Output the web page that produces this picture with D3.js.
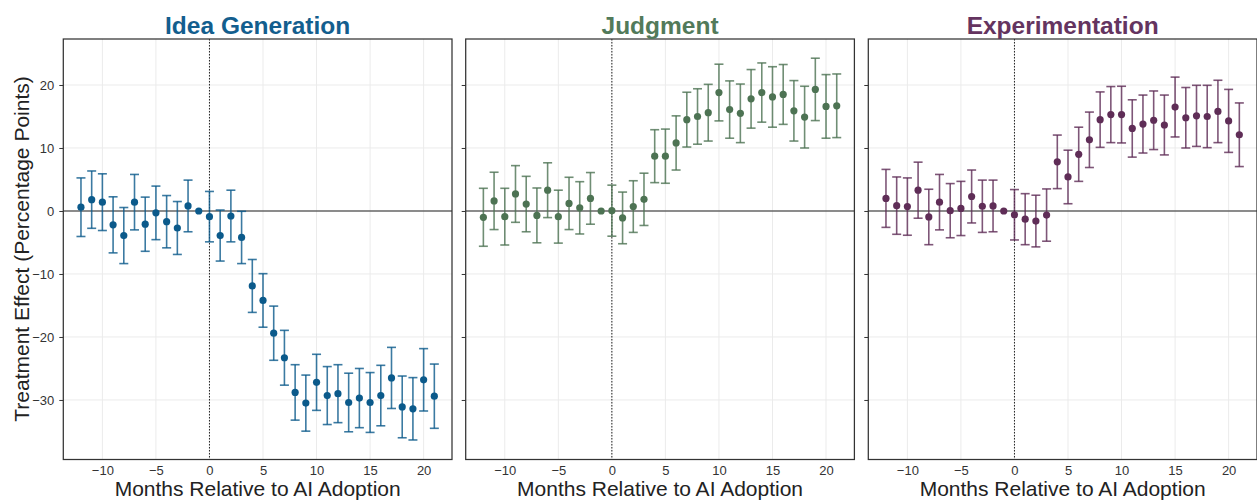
<!DOCTYPE html>
<html>
<head>
<meta charset="utf-8">
<style>
body {margin: 0; background: #fff;}
text {font-family: "Liberation Sans", Arial, sans-serif;}
</style>
<script src="https://d3js.org/d3.v7.min.js"></script>
</head>
<body>
<svg id="vis" width="1257" height="502"></svg>
<script>
var months = d3.range(-12, 22);

var ideaEst = [0.6, 1.8, 1.4, -2.2, -3.9, 1.4, -2.1, -0.3, -1.7, -2.7, 0.8, 0, -0.9, -3.9, -0.8, -4.2,
  -11.9, -14.2, -19.4, -23.3, -28.8, -30.5, -27.2, -29.3, -29.0, -30.4, -29.7, -30.4, -29.3, -26.5, -31.1, -31.4, -26.8, -29.4];
var ideaCi = [4.65, 4.55, 4.5, 4.45, 4.45, 4.4, 4.3, 4.25, 4.15, 4.2, 4.1, 0, 4.0, 4.05, 4.1, 4.15,
  4.2, 4.25, 4.3, 4.35, 4.4, 4.45, 4.45, 4.6, 4.6, 4.65, 4.7, 4.75, 4.8, 4.85, 4.9, 4.95, 4.95, 5.1];

var judgEst = [-1.0, 1.6, -0.9, 2.7, 1.1, -0.7, 3.3, -0.9, 1.2, 0.5, 2.0, 0, 0.05, -1.1, 0.7, 1.85,
  8.7, 8.7, 10.8, 14.5, 15.0, 15.6, 18.8, 16.1, 15.5, 17.8, 18.8, 18.1, 18.5, 15.9, 14.9, 19.3, 16.6, 16.7];
var judgCi = [4.6, 4.55, 4.5, 4.5, 4.4, 4.35, 4.35, 4.2, 4.15, 4.15, 4.1, 0, 4.05, 4.1, 4.1, 4.15,
  4.2, 4.3, 4.3, 4.35, 4.4, 4.5, 4.5, 4.55, 4.65, 4.65, 4.7, 4.8, 4.75, 4.8, 4.9, 4.95, 5.05, 5.05];

var expEst = [2.0, 0.85, 0.7, 3.3, -0.95, 1.4, 0.05, 0.4, 2.3, 0.75, 0.8, 0, -0.6, -1.3, -1.6, -0.65,
  7.8, 5.4, 9.0, 11.3, 14.5, 15.3, 15.3, 13.1, 13.8, 14.4, 13.65, 16.5, 14.8, 15.1, 15.0, 15.8, 14.3, 12.1];
var expCi = [4.6, 4.55, 4.55, 4.45, 4.4, 4.4, 4.3, 4.3, 4.2, 4.15, 4.1, 0, 4.0, 4.05, 4.1, 4.15,
  4.25, 4.25, 4.3, 4.4, 4.4, 4.45, 4.5, 4.55, 4.6, 4.65, 4.75, 4.75, 4.8, 4.85, 4.95, 4.95, 5.0, 5.05];

var titles = ["Idea Generation", "Judgment", "Experimentation"];
var colors = ["#0b5a8b", "#4d7353", "#5f2d57"];
var titleColors = ["#135e8e", "#527a5a", "#643460"];
var xTicks = [-10, -5, 0, 5, 10, 15, 20];
var yTicks = [-30, -20, -10, 0, 10, 20];

var panels = [
  {est: ideaEst, ci: ideaCi},
  {est: judgEst, ci: judgCi},
  {est: expEst, ci: expCi}
];

var svg = d3.select("#vis");
var top0 = 39, bottom0 = 459.5, pw = 388.7;
var lefts = [63.3, 465.7, 868.3];

var y = d3.scaleLinear().domain([-39.45, 27.3]).range([bottom0, top0]);

panels.forEach(function(p, k) {
  var x = d3.scaleLinear().domain([-13.65, 22.65]).range([lefts[k], lefts[k] + pw]);
  var g = svg.append("g");

  // grid
  g.selectAll(".gx").data(xTicks).enter().append("line")
    .attr("x1", function(d) { return x(d); }).attr("x2", function(d) { return x(d); })
    .attr("y1", top0).attr("y2", bottom0)
    .style("stroke", "#ebebeb").style("stroke-width", 1);
  g.selectAll(".gy").data(yTicks).enter().append("line")
    .attr("y1", function(d) { return y(d); }).attr("y2", function(d) { return y(d); })
    .attr("x1", lefts[k]).attr("x2", lefts[k] + pw)
    .style("stroke", "#ebebeb").style("stroke-width", 1);

  // zero line and adoption line
  g.append("line").attr("x1", lefts[k]).attr("x2", lefts[k] + pw)
    .attr("y1", y(0)).attr("y2", y(0))
    .style("stroke", "#222").style("stroke-width", 1.2);
  g.append("line").attr("x1", x(0)).attr("x2", x(0))
    .attr("y1", top0).attr("y2", bottom0)
    .style("stroke", "#222").style("stroke-width", 1).style("stroke-dasharray", "1.5,1.5");

  var rows = months.map(function(m, i) { return {m: m, e: p.est[i], c: p.ci[i]}; })
  var bars = rows.filter(function(d) { return d.c > 0; });

  g.selectAll(".eb").data(bars).enter().append("line")
    .attr("x1", function(d) { return x(d.m); }).attr("x2", function(d) { return x(d.m); })
    .attr("y1", function(d) { return y(d.e - d.c); }).attr("y2", function(d) { return y(d.e + d.c); })
    .style("stroke", colors[k]).style("stroke-width", 1.6).style("opacity", 0.8);
  [-1, 1].forEach(function(s) {
    g.selectAll(".cap").data(bars).enter().append("line")
      .attr("x1", function(d) { return x(d.m) - 4.5; }).attr("x2", function(d) { return x(d.m) + 4.5; })
      .attr("y1", function(d) { return y(d.e + s * d.c); }).attr("y2", function(d) { return y(d.e + s * d.c); })
      .style("stroke", colors[k]).style("stroke-width", 1.6).style("opacity", 0.8);
  });
  g.selectAll(".dot").data(rows).enter().append("circle")
    .attr("cx", function(d) { return x(d.m); }).attr("cy", function(d) { return y(d.e); })
    .attr("r", 3.6).style("fill", colors[k]);

  // frame
  g.append("rect").attr("x", lefts[k]).attr("y", top0).attr("width", pw).attr("height", bottom0 - top0)
    .style("fill", "none").style("stroke", "#333").style("stroke-width", 1.25);

  // axes
  var xa = g.append("g").attr("transform", "translate(0," + bottom0 + ")")
    .call(d3.axisBottom(x).tickValues(xTicks).tickSize(0).tickPadding(6));
  xa.select(".domain").remove();
  xa.selectAll("text").style("font-size", "13px").style("fill", "#333");

  var ya = g.append("g").attr("transform", "translate(" + lefts[k] + ",0)")
    .call(d3.axisLeft(y).tickValues(yTicks).tickSize(4).tickPadding(5).tickFormat(k == 0 ? null : ""));
  ya.select(".domain").remove();
  ya.selectAll("line").style("stroke", "#333");
  ya.selectAll("text").style("font-size", "13px").style("fill", "#333");

  g.append("text").attr("x", lefts[k] + pw / 2).attr("y", 34)
    .attr("text-anchor", "middle").style("font-size", "24.5px").style("font-weight", "bold")
    .style("fill", titleColors[k]).text(titles[k]);

  g.append("text").attr("x", lefts[k] + pw / 2).attr("y", 496)
    .attr("text-anchor", "middle").style("font-size", "21px").style("fill", "#222")
    .text("Months Relative to AI Adoption");
});

svg.append("text").attr("transform", "translate(29,249) rotate(-90)")
  .attr("text-anchor", "middle").style("font-size", "21px").style("fill", "#222")
  .text("Treatment Effect (Percentage Points)");
</script>
</body>
</html>
